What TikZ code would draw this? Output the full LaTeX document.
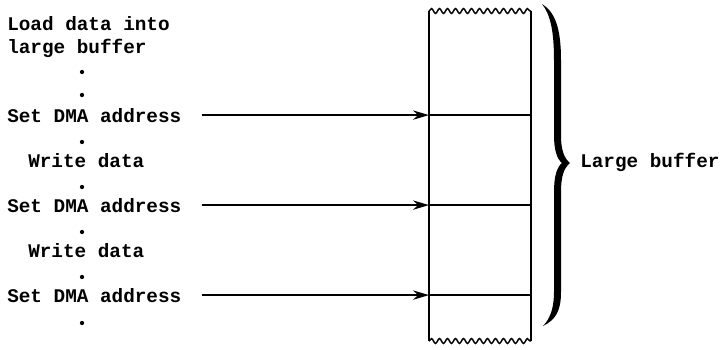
\documentclass[tikz,border=0pt]{standalone}
\usepackage{fontspec}
\setmonofont{Liberation Mono}
\usetikzlibrary{arrows.meta,decorations.pathmorphing}

\begin{document}
\begin{tikzpicture}[x=0.75pt, y=-0.75pt,
  lbl/.style={font=\ttfamily\bfseries\fontsize{14.5}{16}\selectfont, inner sep=0pt, anchor=base west},
  vdot/.style={circle, fill=black, inner sep=0pt, minimum size=3.2pt},
  ptr/.style={line width=1.4pt, -{Stealth[length=12pt, width=7pt]}},
  edge/.style={line width=1.4pt},
  torn/.style={line width=1.1pt, decorate, decoration={snake, segment length=6pt, amplitude=1.8pt}}]
\useasboundingbox (0,0) rectangle (722,350);
% program steps, left column
\node[lbl] (load1) at (7,30) {Load data into};
\node[lbl] (load2) at (7,53) {large buffer};
\node[vdot] (d1) at (82,72) {};
\node[vdot] (d2) at (82,95) {};
\node[lbl] (set1) at (7,122) {Set DMA address};
\node[vdot] (d3) at (82,142) {};
\node[lbl] (wr1) at (28,167) {Write data};
\node[vdot] (d4) at (82,187) {};
\node[lbl] (set2) at (7,212) {Set DMA address};
\node[vdot] (d5) at (82,232) {};
\node[lbl] (wr2) at (28,257) {Write data};
\node[vdot] (d6) at (82,277) {};
\node[lbl] (set3) at (7,302) {Set DMA address};
\node[vdot] (d7) at (82,323) {};
% the buffer, torn off at top and bottom
\coordinate (tl) at (429,11);
\coordinate (tr) at (531,11);
\coordinate (bl) at (429,341);
\coordinate (br) at (531,341);
\draw[edge] (tl) -- (bl);
\draw[edge] (tr) -- (br);
\draw[torn] (tl) -- (tr);
\draw[torn] (bl) -- (br);
\foreach \s in {set1,set2,set3} {
  \coordinate (\s-in) at (429,0 |- \s.east);
  \draw[ptr] ([xshift=15pt]\s.east) -- (\s-in);
  \draw[edge] (\s-in) -- (531,0 |- \s.east);
}
% curly brace
\fill (542,4) .. controls (555,12) and (561,28) .. (561,60) -- (561,135)
  .. controls (561,150) and (564,158) .. (570,163)
  .. controls (564,168) and (561,176) .. (561,192) -- (561,292)
  .. controls (561,312) and (555,320) .. (543,326)
  .. controls (551,318) and (554,306) .. (554,292) -- (554,192)
  .. controls (554,176) and (557,167) .. (562,163)
  .. controls (557,159) and (554,150) .. (554,135) -- (554,60)
  .. controls (554,30) and (550,14) .. (542,4) -- cycle;
\node[lbl] (buf) at (580,167) {Large buffer};
\end{tikzpicture}
\end{document}
